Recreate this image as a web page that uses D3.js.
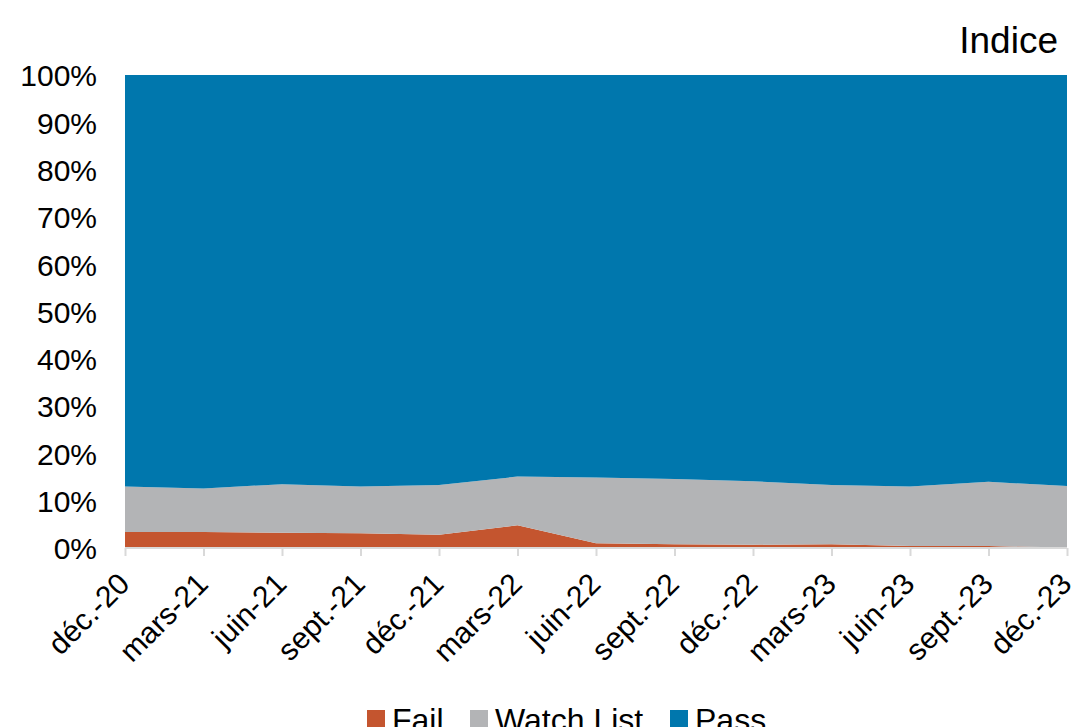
<!DOCTYPE html>
<html>
<head>
<meta charset="utf-8">
<script src="https://cdn.jsdelivr.net/npm/d3@7"></script>
<style>
  body { margin: 0; background: #fff; }
  svg text { font-family: "Liberation Sans", Arial, sans-serif; fill: #000; }
</style>
</head>
<body>
<div id="chart"></div>
<script>
// quarters on the x axis
var dates = ["déc.-20", "mars-21", "juin-21", "sept.-21", "déc.-21", "mars-22", "juin-22",
             "sept.-22", "déc.-22", "mars-23", "juin-23", "sept.-23", "déc.-23"];

// shares in %
var fail  = [3.4, 3.4, 3.2, 3.1, 2.8, 4.8, 1.0, 0.8, 0.7, 0.8, 0.4, 0.4, 0.1];
var watch = [9.6, 9.2, 10.3, 9.9, 10.5, 10.3, 13.9, 13.8, 13.4, 12.5, 12.6, 13.6, 13.0];
var pass  = [87.0, 87.4, 86.5, 87.0, 86.7, 84.9, 85.1, 85.4, 85.9, 86.7, 87.0, 86.0, 86.9];

var seriesNames = ["Fail", "Watch List", "Pass"];
var yTicks = [0, 10, 20, 30, 40, 50, 60, 70, 80, 90, 100];

var colors = {"Fail": "#c4552f", "Watch List": "#b3b4b6", "Pass": "#0077ad"};

var rows = dates.map(function(d, i) {
  return {date: d, "Fail": fail[i], "Watch List": watch[i], "Pass": pass[i]};
});

var margin = {top: 75, right: 4, bottom: 179, left: 125};
var W = 1072, H = 727;
var width = W - margin.left - margin.right,
    height = H - margin.top - margin.bottom;

var svg = d3.select("#chart").append("svg")
    .attr("width", W)
    .attr("height", H);

var g = svg.append("g")
    .attr("transform", "translate(" + margin.left + "," + margin.top + ")");

var xScale = d3.scalePoint()
    .domain(dates)
    .range([0, width - 1]);

var yScale = d3.scaleLinear()
    .domain([0, 100])
    .range([height, 0]);

var stack = d3.stack().keys(seriesNames);
var layers = stack(rows);

var area = d3.area()
    .x(function(d) { return xScale(d.data.date); })
    .y0(function(d) { return yScale(d[0]); })
    .y1(function(d) { return yScale(Math.min(100, d[1])); });

g.selectAll(".layer")
    .data(layers)
    .enter().append("path")
    .attr("class", "layer")
    .attr("d", area)
    .style("fill", function(d) { return colors[d.key]; });

// y axis labels only
var yAxis = d3.axisLeft(yScale)
    .tickValues(yTicks)
    .tickSize(0)
    .tickPadding(28)
    .tickFormat(function(d) { return d + "%"; });

g.append("g")
    .attr("class", "y axis")
    .call(yAxis)
    .call(function(s) {
      s.select(".domain").remove();
      s.selectAll("text").style("font-size", "30px").attr("dy", "0.36em");
    });

// x axis
var xAxis = d3.axisBottom(xScale)
    .tickSize(8)
    .tickPadding(6);

g.append("g")
    .attr("class", "x axis")
    .attr("transform", "translate(0," + height + ")")
    .call(xAxis)
    .call(function(s) {
      s.select(".domain").attr("stroke", "#d9d9d9").attr("stroke-width", 2).attr("d", "M0,0H" + (width - 1));
      s.selectAll(".tick line").attr("stroke", "#d9d9d9").attr("stroke-width", 2);
      s.selectAll("text")
        .style("font-size", "30px")
        .style("text-anchor", "end")
        .attr("dy", "0.7em")
        .attr("transform", "translate(-19,13) rotate(-45)");
    });

// title
svg.append("text")
    .attr("x", 1058)
    .attr("y", 53)
    .attr("text-anchor", "end")
    .style("font-size", "37px")
    .text("Indice");

// legend
var legendX = [367, 470, 670];
var legend = svg.selectAll(".legend")
    .data(seriesNames)
    .enter().append("g")
    .attr("class", "legend")
    .attr("transform", function(d, i) { return "translate(" + legendX[i] + ",710)"; });

legend.append("rect")
    .attr("width", 18)
    .attr("height", 18)
    .style("fill", function(d) { return colors[d]; });

legend.append("text")
    .attr("x", 25)
    .attr("y", 21)
    .style("font-size", "32px")
    .text(function(d) { return d; });
</script>
</body>
</html>
